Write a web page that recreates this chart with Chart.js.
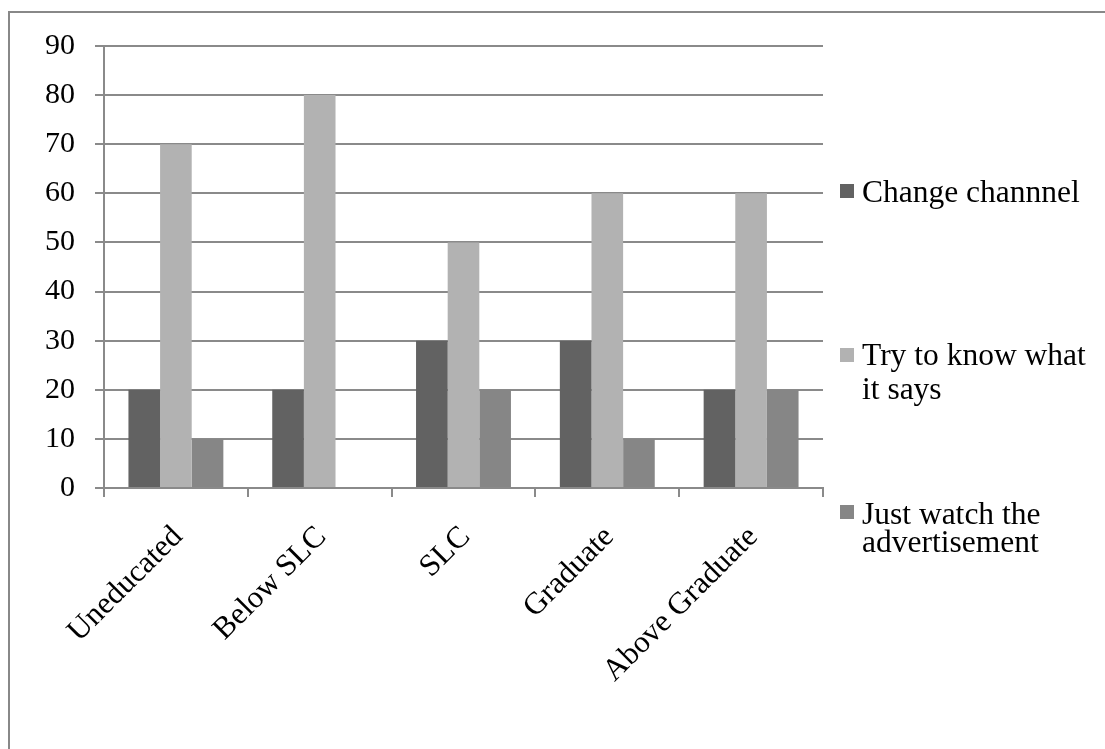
<!DOCTYPE html>
<html lang="en">
<head>
  <meta charset="UTF-8" />
  <title>TV advertisement response by education</title>
  <script src="https://cdn.jsdelivr.net/npm/chart.js"></script>
  <style>
    body {
      margin: 0;
      background: #fff;
      font-family: "Liberation Serif", "Times New Roman", serif;
    }
    .frame {
      position: absolute;
      left: 8px;
      top: 11px;
      width: 1105px;
      height: 760px;
      border-left: 2px solid #888;
      border-top: 2px solid #888;
    }
    .chart-wrapper {
      position: absolute;
      left: 0;
      top: 0;
      width: 1105px;
      height: 749px;
    }
    .legend-box {
      position: absolute;
      width: 14px;
      height: 14px;
    }
    .legend-line {
      position: absolute;
      font-size: 31.5px;
      line-height: 34px;
      color: #000;
      white-space: nowrap;
    }
  </style>
</head>
<body>
  <div class="frame"></div>
  <div class="chart-wrapper">
    <canvas id="eduChart" width="1105" height="749"></canvas>
  </div>
  <div id="legend"></div>

  <script>
    const categories = ['Uneducated', 'Below SLC', 'SLC', 'Graduate', 'Above Graduate'];
    const changeChannel = [20, 20, 30, 30, 20];
    const tryToKnow = [70, 80, 50, 60, 60];
    const justWatch = [10, 0, 20, 10, 20];
    const seriesNames = ['Change channnel', 'Try to know what it says', 'Just watch the advertisement'];
    const seriesColors = ['#626262', '#b2b2b2', '#868686'];
    const yTicks = [0, 10, 20, 30, 40, 50, 60, 70, 80, 90];

    const serif = "'Liberation Serif', 'Times New Roman', serif";
    const gridGray = '#8a8a8a';

    const ctx = document.getElementById('eduChart').getContext('2d');
    const chart = new Chart(ctx, {
      type: 'bar',
      data: {
        labels: categories,
        datasets: [changeChannel, tryToKnow, justWatch].map((vals, i) => ({
          label: seriesNames[i],
          data: vals,
          backgroundColor: seriesColors[i],
          borderWidth: 0,
          barPercentage: 1,
          categoryPercentage: 0.66
        }))
      },
      options: {
        responsive: false,
        animation: false,
        layout: { padding: { top: 46, right: 282, left: 0, bottom: 0 } },
        plugins: {
          legend: { display: false },
          tooltip: { enabled: false }
        },
        scales: {
          x: {
            grid: {
              offset: true,
              drawOnChartArea: false,
              drawTicks: true,
              tickLength: 9,
              color: gridGray,
              lineWidth: 2
            },
            border: { color: gridGray, width: 2 },
            ticks: {
              color: '#000',
              font: { family: serif, size: 31 },
              minRotation: 45,
              maxRotation: 45,
              autoSkip: false,
              padding: 22,
              labelOffset: 2
            },
            afterFit(scale) { scale.height = 261; }
          },
          y: {
            min: 0,
            max: 90,
            afterBuildTicks(scale) { scale.ticks = yTicks.map(v => ({ value: v })); },
            grid: {
              color: gridGray,
              lineWidth: 2,
              tickLength: 9
            },
            border: { color: gridGray, width: 2 },
            ticks: {
              color: '#000',
              font: { family: serif, size: 30 },
              padding: 20
            },
            afterFit(scale) { scale.width = 104; }
          }
        }
      }
    });

    // legend drawn as html so the long labels can wrap like the original
    const legendLines = [
      { box: 184, lines: [['Change channnel', 203]] },
      { box: 348, lines: [['Try to know what', 366], ['it says', 400]] },
      { box: 505, lines: [['Just watch the', 525], ['advertisement', 553]] }
    ];
    const legend = document.getElementById('legend');
    legendLines.forEach((item, i) => {
      const b = document.createElement('div');
      b.className = 'legend-box';
      b.style.left = '840px';
      b.style.top = item.box + 'px';
      b.style.background = seriesColors[i];
      legend.appendChild(b);
      item.lines.forEach(([txt, baseline]) => {
        const t = document.createElement('div');
        t.className = 'legend-line';
        t.textContent = txt;
        t.style.left = '862px';
        t.style.top = (baseline - 28) + 'px';
        legend.appendChild(t);
      });
    });
  </script>
</body>
</html>
